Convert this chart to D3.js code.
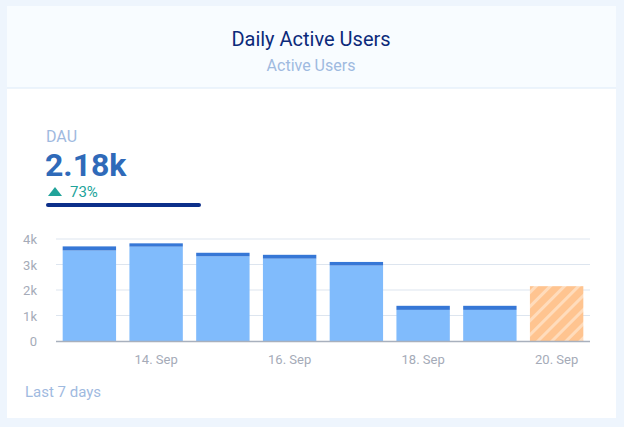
<!DOCTYPE html>
<html><head><meta charset="utf-8">
<script src="https://cdn.jsdelivr.net/npm/d3@7"></script>
<style>
body{margin:0;background:#eef5fd;font-family:Roboto,sans-serif}
</style></head><body>
<svg id="c" width="624" height="427"></svg>
<script>
let days = ['13. Sep','14. Sep','15. Sep','16. Sep','17. Sep','18. Sep','19. Sep','20. Sep']
let baseValues = [3550, 3700, 3320, 3230, 2960, 1220, 1220, 0]
let capValues = [160, 130, 140, 150, 140, 160, 160, 0]
let partialValues = [0, 0, 0, 0, 0, 0, 0, 2150]
let yTicks = [0, 1000, 2000, 3000, 4000]
let tickDays = ['14. Sep','16. Sep','18. Sep','20. Sep']

let svg = d3.select('#c')
let defs = svg.append('defs')
let pat = defs.append('pattern').attr('id','hatch').attr('width',10).attr('height',10)
  .attr('patternUnits','userSpaceOnUse').attr('patternTransform','rotate(45)')
pat.append('rect').attr('width',10).attr('height',10).attr('fill','#ffc490')
pat.append('rect').attr('width',3).attr('height',10).attr('fill','#ffdcbc')

// card
svg.append('rect').attr('x',7).attr('y',6).attr('width',609).attr('height',412).attr('fill','#fff')
svg.append('rect').attr('x',7).attr('y',6).attr('width',609).attr('height',82).attr('fill','#f8fcff')
svg.append('line').attr('x1',7).attr('x2',616).attr('y1',88).attr('y2',88).attr('stroke','#dceaf8')

svg.append('text').attr('x',311).attr('y',46).attr('text-anchor','middle')
  .attr('font-size',20).attr('fill','#0c2a7a').text('Daily Active Users')
svg.append('text').attr('x',311).attr('y',71).attr('text-anchor','middle')
  .attr('font-size',16).attr('fill','#9fbadf').text('Active Users')

svg.append('text').attr('x',46).attr('y',142).attr('font-size',16).attr('fill','#9fbadf').text('DAU')
svg.append('text').attr('x',45).attr('y',176).attr('font-size',32).attr('font-weight',700).attr('fill','#2f6ab9').text('2.18k')
svg.append('path').attr('d','M48,196 l7,-9 l7,9 z').attr('fill','#21a39a')
svg.append('text').attr('x',70).attr('y',197).attr('font-size',15).attr('fill','#21a39a').text('73%')
svg.append('line').attr('x1',48).attr('x2',199).attr('y1',205).attr('y2',205)
  .attr('stroke','#0c2f8a').attr('stroke-width',4).attr('stroke-linecap','round')

let x = d3.scaleBand().domain(days).range([56, 590]).paddingInner(0.2).paddingOuter(0.1)
let y = d3.scaleLinear().domain([0, 4000]).range([341, 239])

let g = svg.append('g')
g.selectAll('.grid').data(yTicks.slice(1)).join('line')
  .attr('x1',56).attr('x2',590).attr('y1',d=>y(d)).attr('y2',d=>y(d)).attr('stroke','#dde5ef')
g.selectAll('.yl').data(yTicks).join('text')
  .attr('x',37).attr('y',d=>y(d)+5).attr('text-anchor','end').attr('font-size',13)
  .attr('fill','#a5abb8').text(d=>d ? d/1000+'k' : '0')

g.selectAll('.b').data(days).join('rect')
  .attr('x',d=>x(d)).attr('width',x.bandwidth())
  .attr('y',(d,i)=>y(baseValues[i])).attr('height',(d,i)=>y(0)-y(baseValues[i]))
  .attr('fill','#80bbfc')
g.selectAll('.cap').data(days).join('rect')
  .attr('x',d=>x(d)).attr('width',x.bandwidth())
  .attr('y',(d,i)=>y(baseValues[i]+capValues[i])).attr('height',(d,i)=>y(0)-y(capValues[i]))
  .attr('fill','#3677d6')
g.selectAll('.p').data(days).join('rect')
  .attr('x',d=>x(d)).attr('width',x.bandwidth())
  .attr('y',(d,i)=>y(partialValues[i])).attr('height',(d,i)=>y(0)-y(partialValues[i]))
  .attr('fill','url(#hatch)')

g.append('line').attr('x1',56).attr('x2',590).attr('y1',341.5).attr('y2',341.5).attr('stroke','#a8b0bd').attr('stroke-width',1.5)
g.selectAll('.xl').data(tickDays).join('text')
  .attr('x',d=>x(d)+x.bandwidth()/2).attr('y',364).attr('text-anchor','middle')
  .attr('font-size',13).attr('fill','#a5abb8').text(d=>d)

svg.append('text').attr('x',25).attr('y',397).attr('font-size',15).attr('fill','#9fbadf').text('Last 7 days')
</script></body></html>
